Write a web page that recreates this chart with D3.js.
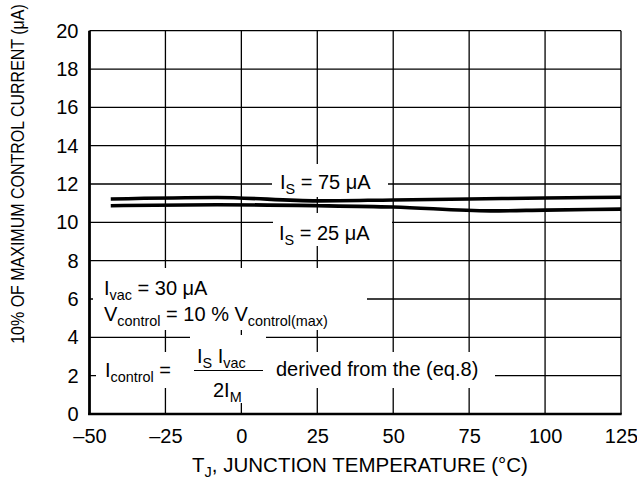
<!DOCTYPE html>
<html>
<head>
<meta charset="utf-8">
<script src="https://cdn.jsdelivr.net/npm/d3@7"></script>
<style>
  html, body { margin: 0; padding: 0; background: #fff; }
  svg { display: block; font-family: "Liberation Sans", Arial, Helvetica, sans-serif; }
</style>
</head>
<body>
<svg id="chart" width="637" height="491"></svg>
<script>
// ---- data ----
const xTicks = [-50, -25, 0, 25, 50, 75, 100, 125];
const yTicks = [0, 2, 4, 6, 8, 10, 12, 14, 16, 18, 20];
const tempIs75 = [-43, -8, 25, 50, 75, 100, 125];
const ctrlIs75 = [11.22, 11.3, 11.12, 11.17, 11.22, 11.27, 11.31];
const tempIs25 = [-43, -8, 25, 50, 82, 100, 125];
const ctrlIs25 = [10.87, 10.92, 10.87, 10.8, 10.6, 10.64, 10.69];

const svg = d3.select("#chart");
const x = d3.scaleLinear().domain([-50, 125]).range([89.5, 621]);
const y = d3.scaleLinear().domain([0, 20]).range([414, 30.7]);
const fmt = d => d < 0 ? "\u2013" + Math.abs(d) : String(d);

// grid
const grid = svg.append("g").attr("stroke", "#000").attr("stroke-width", 1.3);
grid.selectAll("line.v").data(xTicks.slice(1)).join("line")
  .attr("x1", d => x(d)).attr("x2", d => x(d))
  .attr("y1", y(0)).attr("y2", y(20));
grid.selectAll("line.h").data(yTicks.slice(1)).join("line")
  .attr("y1", d => y(d)).attr("y2", d => y(d))
  .attr("x1", x(-50)).attr("x2", x(125));

// white knock-out boxes behind annotations
const boxes = [
  [272, 164, 116, 33],   // I_S = 75
  [273, 213, 119, 33],   // I_S = 25
  [93, 268, 274, 62],    // Ivac / Vcontrol
  [96, 352, 399, 36],    // Icontrol line
  [190, 335, 76, 68]     // fraction
];
svg.append("g").selectAll("rect").data(boxes).join("rect")
  .attr("x", d => d[0]).attr("y", d => d[1])
  .attr("width", d => d[2]).attr("height", d => d[3])
  .attr("fill", "#fff");

// curves
const line = d3.line().x(d => x(d[0])).y(d => y(d[1])).curve(d3.curveMonotoneX);
[[tempIs75, ctrlIs75], [tempIs25, ctrlIs25]].forEach(([t, v]) => {
  svg.append("path")
    .datum(t.map((d, i) => [d, v[i]]))
    .attr("d", line)
    .attr("fill", "none").attr("stroke", "#000").attr("stroke-width", 3.6);
});

// axes (thick left and bottom)
svg.append("line").attr("x1", x(-50)).attr("x2", x(-50)).attr("y1", y(0) + 1).attr("y2", y(20))
  .attr("stroke", "#000").attr("stroke-width", 2.8);
svg.append("line").attr("x1", x(-50) - 1.4).attr("x2", x(125) + 0.7).attr("y1", y(0)).attr("y2", y(0))
  .attr("stroke", "#000").attr("stroke-width", 2.6);

// tick labels
const xAxis = svg.append("g").attr("transform", `translate(0,${y(0)})`)
  .call(d3.axisBottom(x).tickValues(xTicks).tickSize(0).tickPadding(15).tickFormat(fmt));
const yAxis = svg.append("g").attr("transform", `translate(${x(-50)},0)`)
  .call(d3.axisLeft(y).tickValues(yTicks).tickSize(0).tickPadding(11).tickFormat(fmt));
[xAxis, yAxis].forEach(a => {
  a.select(".domain").remove();
  a.selectAll("text").attr("font-size", 20).attr("fill", "#000")
    .attr("font-family", '"Liberation Sans", Arial, Helvetica, sans-serif');
});

// axis titles
svg.append("text")
  .attr("transform", "translate(24,174) rotate(-90) scale(1,1.18)")
  .attr("text-anchor", "middle").attr("font-size", 16)
  .text("10% OF MAXIMUM CONTROL CURRENT (\u03bcA)");

const xt = svg.append("text").attr("x", 360).attr("y", 472)
  .attr("text-anchor", "middle").attr("font-size", 20.5);
xt.append("tspan").text("T");
xt.append("tspan").attr("font-size", 14.5).attr("dy", 5).text("J");
xt.append("tspan").attr("dy", -5).text(", JUNCTION TEMPERATURE (\u00b0C)");

// helper for text with subscripts: parts = [[text, isSub], ...]
function rich(xp, yp, parts, size, anchor) {
  const t = svg.append("text").attr("x", xp).attr("y", yp)
    .attr("font-size", size).attr("text-anchor", anchor || "start");
  let sub = false;
  parts.forEach(([s, isSub]) => {
    const ts = t.append("tspan").text(s);
    if (isSub && !sub) { ts.attr("dy", 5).attr("font-size", size * 0.72); sub = true; }
    else if (isSub) { ts.attr("font-size", size * 0.72); }
    else if (!isSub && sub) { ts.attr("dy", -5); sub = false; }
  });
  return t;
}

const FS = 20;
rich(280, 189, [["I"], ["S", true], [" = 75 \u03bcA"]], FS);
rich(279, 240, [["I"], ["S", true], [" = 25 \u03bcA"]], FS);
rich(104, 295, [["I"], ["vac", true], [" = 30 \u03bcA"]], FS);
rich(104, 321, [["V"], ["control", true], [" = 10 % V"], ["control(max)", true]], FS);
rich(105, 377, [["I"], ["control", true], [" ="]], FS);
rich(197, 363, [["I"], ["S", true], [" I"], ["vac", true]], FS);
rich(213, 397, [["2I"], ["M", true]], FS);
svg.append("line").attr("x1", 194).attr("x2", 263).attr("y1", 370.5).attr("y2", 370.5)
  .attr("stroke", "#000").attr("stroke-width", 1.2);
rich(276, 376, [["derived from the (eq.8)"]], FS);
</script>
</body>
</html>
